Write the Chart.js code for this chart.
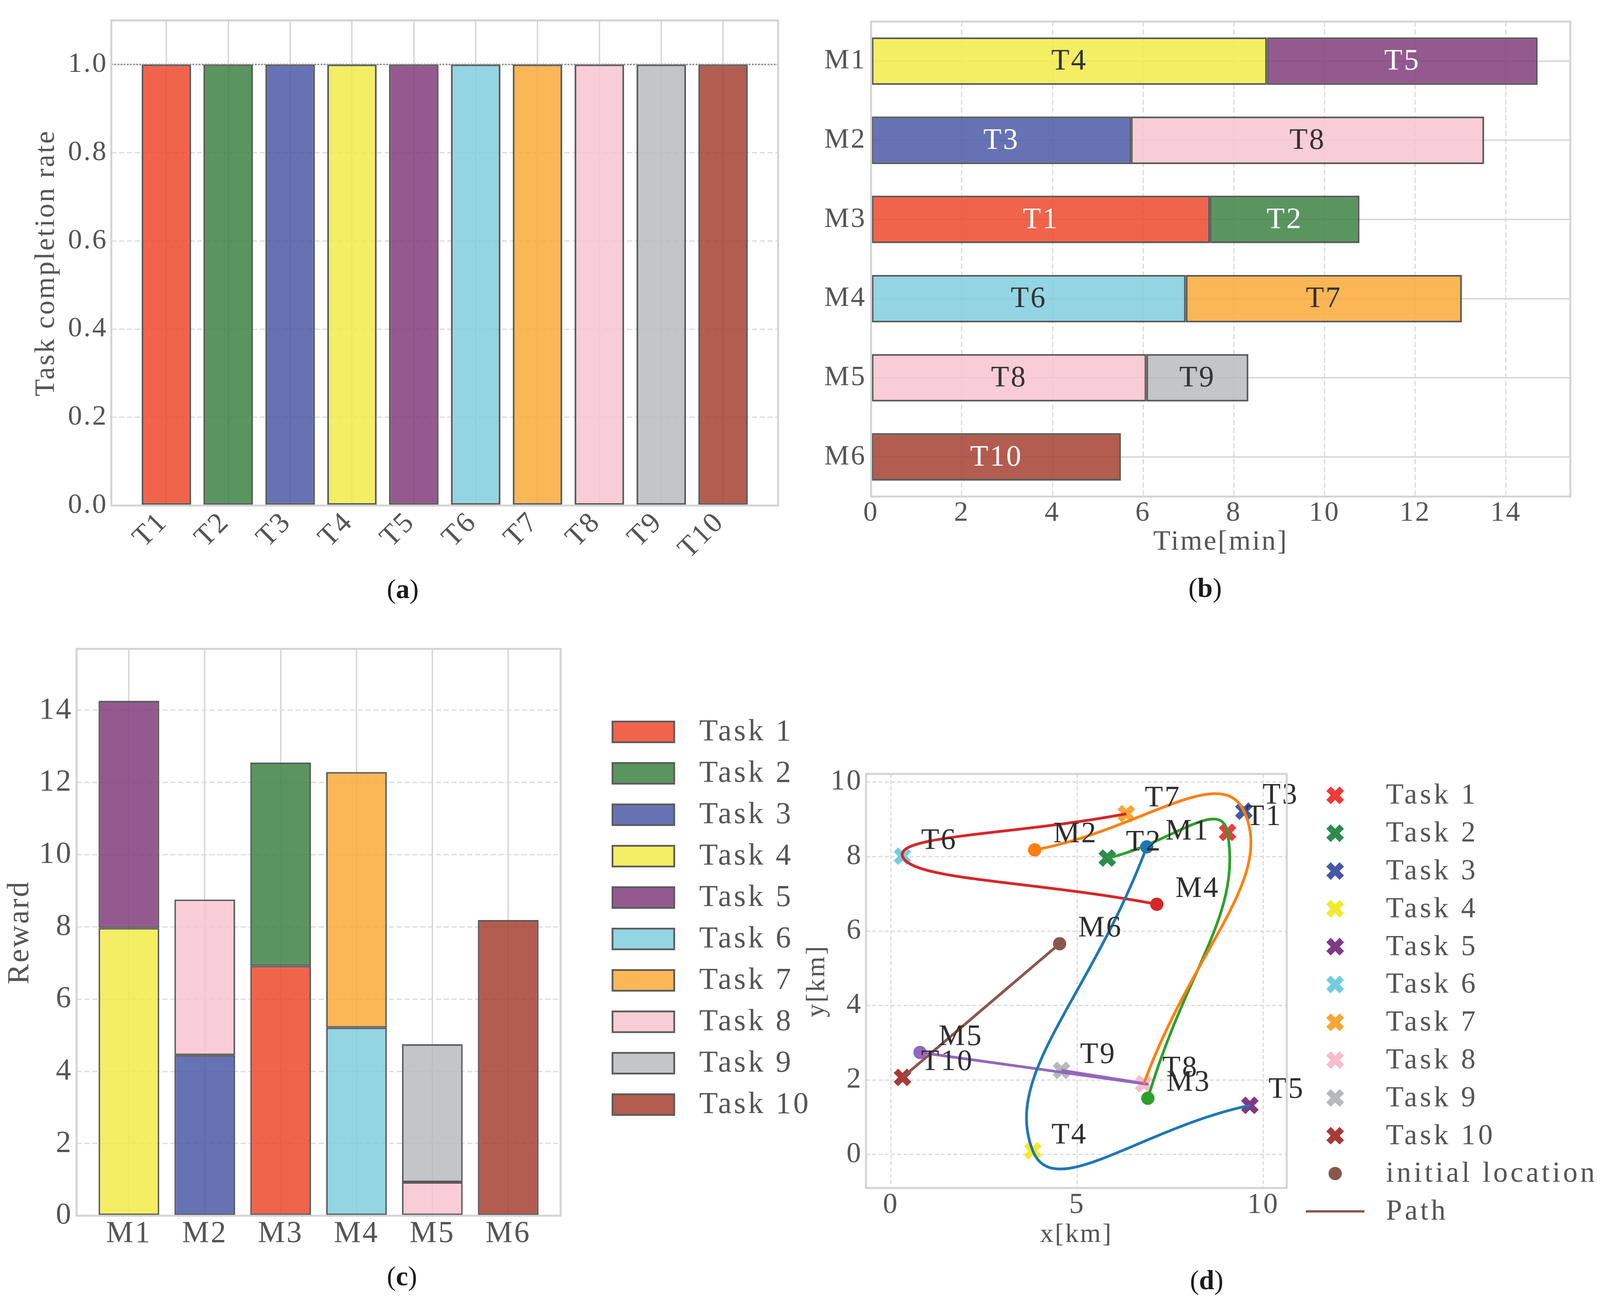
<!DOCTYPE html>
<html>
<head>
<meta charset="utf-8">
<script src="https://cdn.jsdelivr.net/npm/chart.js@4.4.1/dist/chart.umd.min.js"></script>
<style>
html,body{margin:0;padding:0;background:#ffffff;}
body{width:4155px;height:3343px;position:relative;overflow:hidden;}
canvas{position:absolute;}
.cap{position:absolute;font-family:"Liberation Serif","DejaVu Serif",serif;font-size:70px;color:#1a1a1a;transform:translate(-50%,-50%);white-space:nowrap;line-height:1;}
.cap b{font-weight:bold;}
</style>
</head>
<body>
<canvas id="chartA" width="2078" height="1460" style="left:0px;top:0px;"></canvas>
<canvas id="chartB" width="2077" height="1460" style="left:2078px;top:0px;"></canvas>
<canvas id="chartC" width="2150" height="1783" style="left:0px;top:1560px;"></canvas>
<canvas id="chartD" width="2125" height="1300" style="left:2030px;top:1900px;"></canvas>
<div class="cap" style="left:1031px;top:1508px;">(<b>a</b>)</div>
<div class="cap" style="left:3085px;top:1505px;">(<b>b</b>)</div>
<div class="cap" style="left:1029px;top:3267px;">(<b>c</b>)</div>
<div class="cap" style="left:3089px;top:3277px;">(<b>d</b>)</div>
<script>
// ---------------- DATA ----------------
const taskLabels = ['T1','T2','T3','T4','T5','T6','T7','T8','T9','T10'];
const completionRate = [1.0,1.0,1.0,1.0,1.0,1.0,1.0,1.0,1.0,1.0];
const targetRate = 1.0;

const machineLabels = ['M1','M2','M3','M4','M5','M6'];
// Gantt schedule (minutes): first and second task of each machine
const ganttTaskA  = [4, 3, 1, 6, 8, 10];
const ganttStartA = [0, 0, 0, 0, 0, 0];
const ganttEndA   = [8.73, 5.73, 7.47, 6.94, 6.07, 5.51];
const ganttTaskB  = [5, 8, 2, 7, 9, null];
const ganttEndB   = [14.70, 13.52, 10.77, 13.03, 8.32, null];

// Reward per task, per machine (M1..M6)
const rewardTask1  = [null, null, 6.92, null, null, null];
const rewardTask2  = [null, null, 5.63, null, null, null];
const rewardTask3  = [null, 4.45, null, null, null, null];
const rewardTask4  = [7.97, null, null, null, null, null];
const rewardTask5  = [6.29, null, null, null, null, null];
const rewardTask6  = [null, null, null, 5.21, null, null];
const rewardTask7  = [null, null, null, 7.08, null, null];
const rewardTask8  = [null, 4.31, null, null, 0.93, null];
const rewardTask9  = [null, null, null, null, 3.82, null];
const rewardTask10 = [null, null, null, null, null, 8.19];

// Positions (km)
const taskPosX = [9.04, 5.81, 9.48, 3.81, 9.64, 0.31, 6.32, 6.79, 4.58, 0.31];
const taskPosY = [8.65, 7.96, 9.22, 0.10, 1.32, 8.01, 9.15, 1.90, 2.26, 2.07];
const initPosX = [6.87, 3.86, 6.90, 7.14, 0.78, 4.53];
const initPosY = [8.26, 8.18, 1.51, 6.72, 2.74, 5.66];

// ---------------- STYLE ----------------
const barColors = [
  'rgba(237,73,44,0.85)','rgba(61,130,67,0.85)','rgba(75,89,167,0.85)','rgba(242,235,73,0.85)',
  'rgba(129,61,124,0.85)','rgba(128,206,222,0.85)','rgba(250,169,56,0.85)','rgba(248,196,208,0.85)',
  'rgba(186,187,189,0.85)','rgba(166,63,49,0.85)'];
const markerColors = ['#ee3b3b','#2e8b4e','#4559a6','#f2ea2a','#7e3a86','#74cddd','#f9a535','#f8bccb','#b7b8ba','#a83a37'];
const barTextColors = ['#ffffff','#ffffff','#ffffff','#333333','#ffffff','#333333','#333333','#333333','#333333','#ffffff'];
const pathColors = ['#1f77b4','#ff7f0e','#2ca02c','#d62728','#9467bd','#8c564b'];
const FONT = '"Liberation Serif", "DejaVu Serif", serif';
const TICK = '#555555';
const GRID_SOLID = '#d5d5d5';
const GRID_DASH = '#dedede';
const FRAME = '#d3d3d3';
const EDGE = '#5a5a5a';
const DASH = [13, 7];
const LS = '4px';

Chart.defaults.font.family = FONT;
Chart.defaults.color = TICK;
Chart.defaults.animation = false;

Chart.register({
  id: 'letterSpacing',
  beforeUpdate(chart) { chart.ctx.letterSpacing = LS; },
  beforeDraw(chart) { chart.ctx.letterSpacing = LS; }
});

const framePlugin = {
  id: 'frame',
  afterDraw(chart) {
    const {ctx, chartArea: a} = chart;
    ctx.save();
    ctx.strokeStyle = FRAME;
    ctx.lineWidth = 5;
    ctx.strokeRect(a.left, a.top, a.right - a.left, a.bottom - a.top);
    ctx.restore();
  }
};

const baseOpts = (pad) => ({
  responsive: false,
  devicePixelRatio: 1,
  animation: false,
  layout: {padding: pad},
  plugins: {legend: {display: false}, tooltip: {enabled: false}}
});

// ---------------- (a) ----------------
const refLinePlugin = {
  id: 'refLine',
  afterDatasetsDraw(chart) {
    const {ctx, chartArea: a} = chart;
    const y = chart.scales.y.getPixelForValue(targetRate);
    ctx.save();
    ctx.setLineDash([4, 4]);
    ctx.strokeStyle = '#8e8e8e';
    ctx.lineWidth = 4;
    ctx.beginPath(); ctx.moveTo(a.left, y); ctx.lineTo(a.right, y); ctx.stroke();
    ctx.restore();
  }
};

new Chart(document.getElementById('chartA'), {
  type: 'bar',
  data: {datasets: [{
    data: completionRate.map((v, i) => ({x: i, y: v})),
    backgroundColor: barColors, borderColor: EDGE, borderWidth: 4.5, borderSkipped: false,
    barPercentage: 0.8, categoryPercentage: 1.0
  }]},
  options: Object.assign(baseOpts({left: 0, top: 39, right: 86, bottom: 0}), {
    scales: {
      x: {type: 'linear', offset: false, min: -0.89, max: 9.89,
        afterFit: s => { s.height = 166; },
        ticks: {stepSize: 1, includeBounds: false, autoSkip: false, maxRotation: 45, minRotation: 45,
          padding: 0, labelOffset: -8, font: {size: 74}, color: TICK,
          callback: v => (taskLabels[v] !== undefined ? taskLabels[v] : '')},
        grid: {offset: false, color: GRID_SOLID, lineWidth: 3.5, drawTicks: false},
        border: {display: false}},
      y: {min: 0, max: 1.1,
        afterFit: s => { s.width = 285; },
        ticks: {stepSize: 0.2, includeBounds: false, padding: 9, font: {size: 72}, color: TICK,
          callback: v => Number(v).toFixed(1)},
        grid: {color: GRID_DASH, lineWidth: 3.5, drawTicks: false},
        border: {display: false, dash: DASH},
        title: {display: true, text: 'Task completion rate', color: TICK,
          font: {size: 72, lineHeight: 1}, padding: {top: 83, bottom: 0}}}
    }
  }),
  plugins: [framePlugin, refLinePlugin]
});

// ---------------- (b) ----------------
const ganttLabelPlugin = {
  id: 'ganttLabels',
  afterDatasetsDraw(chart) {
    const ctx = chart.ctx;
    ctx.save();
    ctx.font = '76px ' + FONT;
    ctx.textAlign = 'center';
    ctx.textBaseline = 'middle';
    chart.data.datasets.forEach((ds, di) => {
      const meta = chart.getDatasetMeta(di);
      meta.data.forEach((el, i) => {
        const t = ds.taskIds[i];
        if (t === null || t === undefined) return;
        const p = el.getProps(['x', 'y', 'base'], true);
        ctx.fillStyle = barTextColors[t - 1];
        ctx.fillText(taskLabels[t - 1], (p.x + p.base) / 2, p.y + 2);
      });
    });
    ctx.restore();
  }
};

new Chart(document.getElementById('chartB'), {
  type: 'bar',
  data: {
    labels: machineLabels,
    datasets: [
      {taskIds: ganttTaskA,
       data: ganttEndA.map((e, i) => [ganttStartA[i], e]),
       backgroundColor: ganttTaskA.map(t => barColors[t - 1]),
       borderColor: EDGE, borderWidth: 4.5, borderSkipped: false, grouped: false,
       barPercentage: 0.6, categoryPercentage: 1.0},
      {taskIds: ganttTaskB,
       data: ganttEndB.map((e, i) => (e === null ? null : [ganttEndA[i], e])),
       backgroundColor: ganttTaskB.map(t => (t ? barColors[t - 1] : 'rgba(0,0,0,0)')),
       borderColor: EDGE, borderWidth: 4.5, borderSkipped: false, grouped: false,
       barPercentage: 0.6, categoryPercentage: 1.0}
    ]
  },
  options: Object.assign(baseOpts({left: 0, top: 36, right: 135, bottom: 0}), {
    indexAxis: 'y',
    scales: {
      x: {type: 'linear', min: 0, max: 15.42,
        afterFit: s => { s.height = 189; },
        ticks: {stepSize: 2, includeBounds: false, padding: 0, font: {size: 72}, color: TICK},
        grid: {color: GRID_DASH, lineWidth: 3.5, drawTicks: false},
        border: {display: false, dash: DASH},
        title: {display: true, text: 'Time[min]', color: TICK,
          font: {size: 72, lineHeight: 1}, padding: {top: 0, bottom: 36}}},
      y: {type: 'category', offset: true,
        afterFit: s => { s.width = 152; },
        ticks: {padding: 12, font: {size: 72}, color: TICK, autoSkip: false},
        grid: {offset: false, color: GRID_SOLID, lineWidth: 3.5, drawTicks: false},
        border: {display: false}}
    }
  }),
  plugins: [framePlugin, ganttLabelPlugin]
});

// ---------------- (c) ----------------
const rewardSeries = [rewardTask1, rewardTask2, rewardTask3, rewardTask4, rewardTask5,
                      rewardTask6, rewardTask7, rewardTask8, rewardTask9, rewardTask10];

const rewardLegendPlugin = {
  id: 'rewardLegend',
  afterDraw(chart) {
    const ctx = chart.ctx;
    ctx.save();
    ctx.font = '78px ' + FONT;
    ctx.letterSpacing = '6px';
    ctx.textAlign = 'left';
    ctx.textBaseline = 'middle';
    chart.data.datasets.forEach((ds, k) => {
      const cy = 313 + 106 * k;
      ctx.fillStyle = ds.backgroundColor;
      ctx.fillRect(1568, cy - 26, 158, 53);
      ctx.strokeStyle = EDGE; ctx.lineWidth = 4.5;
      ctx.strokeRect(1568, cy - 26, 158, 53);
      ctx.fillStyle = TICK;
      ctx.fillText(ds.label, 1790, cy + 2);
    });
    ctx.restore();
  }
};

new Chart(document.getElementById('chartC'), {
  type: 'bar',
  data: {datasets: rewardSeries.map((arr, k) => ({
    label: 'Task ' + (k + 1),
    data: arr.map((v, i) => (v === null ? null : {x: i, y: v})).filter(p => p !== null),
    backgroundColor: barColors[k], borderColor: EDGE, borderWidth: 4, borderSkipped: false,
    barPercentage: 0.8, categoryPercentage: 1.0
  }))},
  options: Object.assign(baseOpts({left: 0, top: 101, right: 715, bottom: 0}), {
    scales: {
      x: {type: 'linear', stacked: true, offset: false, min: -0.69, max: 5.69,
        afterFit: s => { s.height = 231; },
        ticks: {stepSize: 1, includeBounds: false, autoSkip: false, padding: 0, font: {size: 78}, color: TICK,
          callback: v => (machineLabels[v] !== undefined ? machineLabels[v] : '')},
        grid: {offset: false, color: GRID_SOLID, lineWidth: 3.5, drawTicks: false},
        border: {display: false}},
      y: {stacked: true, min: 0, max: 15.7,
        afterFit: s => { s.width = 196; },
        ticks: {stepSize: 2, includeBounds: false, padding: 10, font: {size: 78}, color: TICK},
        grid: {color: GRID_DASH, lineWidth: 3.5, drawTicks: false},
        border: {display: false, dash: DASH},
        title: {display: true, text: 'Reward', color: TICK,
          font: {size: 78, lineHeight: 1}, padding: {top: 13, bottom: 0}}}
    }
  }),
  plugins: [framePlugin, rewardLegendPlugin]
});

// ---------------- (d) ----------------
const routes = machineLabels.map((m, i) => [ganttTaskA[i], ganttTaskB[i]].filter(t => t !== null));
const labelDx = 0.5, labelDy = 0.2;

function drawX(ctx, x, y, r, w, color) {
  const o = r * Math.SQRT1_2;
  ctx.save();
  ctx.strokeStyle = color; ctx.lineWidth = w; ctx.lineCap = 'butt';
  ctx.beginPath();
  ctx.moveTo(x - o, y - o); ctx.lineTo(x + o, y + o);
  ctx.moveTo(x + o, y - o); ctx.lineTo(x - o, y + o);
  ctx.stroke();
  ctx.restore();
}

const pointLabelPlugin = {
  id: 'pointLabels',
  afterDatasetsDraw(chart) {
    const {ctx, scales: {x, y}} = chart;
    ctx.save();
    ctx.font = '76px ' + FONT;
    ctx.fillStyle = '#2e2e2e';
    ctx.textAlign = 'left';
    ctx.textBaseline = 'alphabetic';
    taskLabels.forEach((t, i) => {
      ctx.fillText(t, x.getPixelForValue(taskPosX[i] + labelDx), y.getPixelForValue(taskPosY[i] + labelDy));
    });
    machineLabels.forEach((m, i) => {
      ctx.fillText(m, x.getPixelForValue(initPosX[i] + labelDx), y.getPixelForValue(initPosY[i] + labelDy));
    });
    ctx.restore();
  }
};

const mapLegendPlugin = {
  id: 'mapLegend',
  afterDraw(chart) {
    const ctx = chart.ctx;
    const mx = 1388, tx = 1518, y0 = 136, dy = 96.8;
    ctx.save();
    ctx.font = '74px ' + FONT;
    ctx.letterSpacing = '7px';
    ctx.textAlign = 'left';
    ctx.textBaseline = 'middle';
    taskLabels.forEach((t, k) => {
      const cy = y0 + dy * k;
      drawX(ctx, mx, cy, 24, 16, markerColors[k]);
      ctx.fillStyle = TICK;
      ctx.fillText('Task ' + (k + 1), tx, cy + 2);
    });
    let cy = y0 + dy * 10;
    ctx.fillStyle = pathColors[5];
    ctx.beginPath(); ctx.arc(mx, cy, 17, 0, Math.PI * 2); ctx.fill();
    ctx.fillStyle = TICK;
    ctx.fillText('initial location', tx, cy + 2);
    cy = y0 + dy * 11;
    ctx.strokeStyle = pathColors[5]; ctx.lineWidth = 6;
    ctx.beginPath(); ctx.moveTo(mx - 75, cy); ctx.lineTo(mx + 75, cy); ctx.stroke();
    ctx.fillStyle = TICK;
    ctx.fillText('Path', tx, cy + 2);
    ctx.restore();
  }
};

const dDatasets = [];
dDatasets.push({
  label: 'initial location',
  data: initPosX.map((v, i) => ({x: v, y: initPosY[i]})),
  pointRadius: 17, pointBorderWidth: 0, pointBackgroundColor: pathColors, pointStyle: 'circle', showLine: false
});
routes.forEach((r, i) => {
  dDatasets.push({
    label: 'Path ' + machineLabels[i],
    data: [{x: initPosX[i], y: initPosY[i]}].concat(r.map(t => ({x: taskPosX[t - 1], y: taskPosY[t - 1]}))),
    showLine: true, borderColor: pathColors[i], borderWidth: 7, pointRadius: 0, tension: 0.5, fill: false
  });
});
dDatasets.push({
  label: 'Tasks',
  data: taskPosX.map((v, i) => ({x: v, y: taskPosY[i]})),
  pointStyle: 'crossRot', pointRadius: 24, pointBorderWidth: 16,
  pointBorderColor: markerColors, pointBackgroundColor: 'rgba(0,0,0,0)', showLine: false
});

new Chart(document.getElementById('chartD'), {
  type: 'scatter',
  data: {datasets: dDatasets},
  options: Object.assign(baseOpts({left: 0, top: 81, right: 861, bottom: 0}), {
    elements: {line: {capBezierPoints: false}},
    scales: {
      x: {type: 'linear', min: -0.67, max: 10.63,
        afterFit: s => { s.height = 159; },
        ticks: {stepSize: 5, includeBounds: false, padding: 0, font: {size: 74}, color: TICK},
        grid: {color: GRID_DASH, lineWidth: 3.5, drawTicks: false},
        border: {display: false, dash: [10, 6]},
        title: {display: true, text: 'x[km]', color: TICK,
          font: {size: 68, lineHeight: 1}, padding: {top: 0, bottom: 5}}},
      y: {type: 'linear', min: -0.90, max: 10.22,
        afterFit: s => { s.width = 187; },
        ticks: {stepSize: 2, includeBounds: false, padding: 9, font: {size: 74}, color: TICK},
        grid: {color: GRID_DASH, lineWidth: 3.5, drawTicks: false},
        border: {display: false, dash: [10, 6]},
        title: {display: true, text: 'y[km]', color: TICK,
          font: {size: 68, lineHeight: 1}, padding: {top: 28, bottom: 0}}}
    }
  }),
  plugins: [framePlugin, pointLabelPlugin, mapLegendPlugin]
});
</script>
</body>
</html>
